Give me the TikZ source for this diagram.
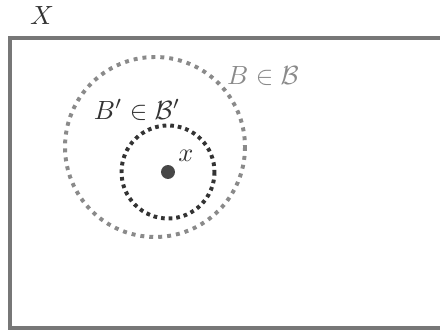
\documentclass[tikz,border=0pt]{standalone}
\definecolor{framegray}{HTML}{777777}
\definecolor{ballgray}{HTML}{8A8A8A}
\definecolor{ink}{HTML}{333333}
\tikzset{
  frameline/.style={draw=framegray, line width=1.15pt},
  bigball/.style={draw=ballgray, line width=1.5pt, dash pattern=on 1.5pt off 1.9pt},
  smallball/.style={draw=ink, line width=1.5pt, dash pattern=on 1.4pt off 1.5pt},
  lbl/.style={text=ink, inner sep=0pt},
  graylbl/.style={text=ballgray, inner sep=0pt},
  pt/.style={circle, fill=ink!90!white, inner sep=0pt, minimum size=5.3pt}
}
\begin{document}
\begin{tikzpicture}[x=0.38pt,y=-0.38pt]
\useasboundingbox (0,0) rectangle (440,331);
\coordinate (tr) at (440,38);
\coordinate (tl) at (10,38);
\coordinate (bl) at (10,328);
\coordinate (br) at (440,328);
\draw[frameline] (tr) -- (tl) -- (bl) -- (br);
\coordinate (cB) at (155,147);
\coordinate (cBp) at (168,172);
\draw[bigball] (cB) circle[radius=90];
\draw[smallball] (cBp) circle[radius=46.5];
\node[pt] (x) at (168,172) {};
\node[lbl] (lx) at (186,156) {$x$};
\node[lbl] (lX) at (42,16) {$X$};
\node[graylbl] (lB) at (263,76) {$B\in\mathcal{B}$};
\node[lbl] (lBp) at (137,110) {$B'\in\mathcal{B}'$};
\end{tikzpicture}
\end{document}
